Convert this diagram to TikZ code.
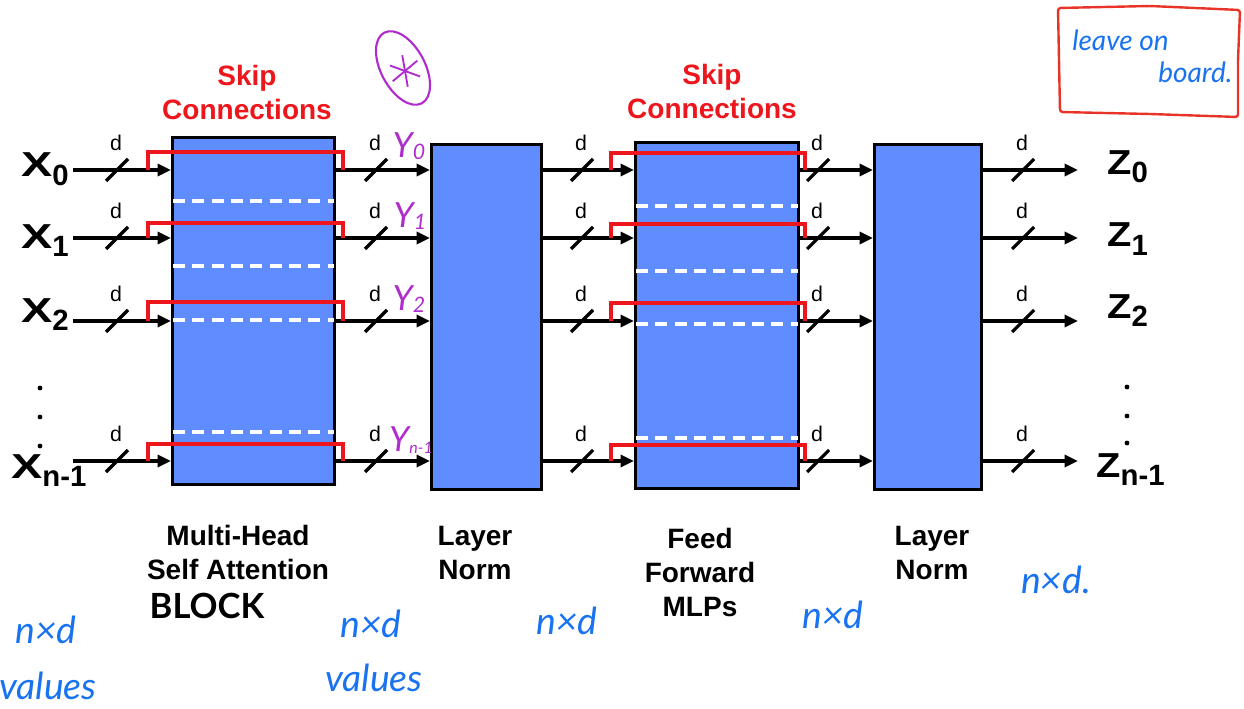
\documentclass[tikz,border=0pt]{standalone}
\usepackage{fontspec}
\setmainfont{Liberation Sans}
\newfontfamily\hand{Lato}
\usetikzlibrary{arrows.meta}
\definecolor{blkfill}{RGB}{95,141,255}
\definecolor{skipred}{RGB}{236,22,28}
\definecolor{hblue}{RGB}{25,115,240}
\definecolor{hpurple}{RGB}{175,45,205}
\definecolor{hred}{RGB}{232,52,40}
\newcommand\biglbl[3]{\scalebox{#1}[1]{\fontsize{26}{28}\selectfont\bfseries #2}\raisebox{-6pt}{\fontsize{22}{24}\selectfont\bfseries #3}}
\begin{document}
\begin{tikzpicture}[x=0.75pt,y=-0.75pt,
  block/.style={draw=black,line width=2.4pt,fill=blkfill,inner sep=0pt,anchor=north west},
  arr/.style={line width=2.4pt,-{Triangle[length=10pt,width=9pt]}},
  slash/.style={line width=2.4pt},
  dlbl/.style={font=\fontsize{16}{18}\selectfont,inner sep=0pt},
  skip/.style={draw=skipred,line width=2.6pt},
  sep/.style={draw=white,line width=2.6pt,dash pattern=on 9pt off 5.5pt},
  title/.style={font=\fontsize{21}{25.5}\selectfont\bfseries,align=center,inner sep=0pt},
  skiptitle/.style={title,text=skipred},
  big/.style={inner sep=0pt,anchor=base west},
  hw/.style={font=\hand\itshape\fontsize{28}{30}\selectfont,text=hblue,inner sep=0pt},
  hwsmall/.style={font=\hand\itshape\fontsize{21}{23}\selectfont,text=hblue,inner sep=0pt},
  hy/.style={font=\hand\itshape\fontsize{26}{28}\selectfont,text=hpurple,inner sep=0pt}
]
\useasboundingbox (0,0) rectangle (1244,709);

% blocks
\node[block,minimum width=121.5pt,minimum height=260.25pt] (b1) at (171,136) {};
\node[block,minimum width=82.5pt,minimum height=258.75pt] (b2) at (430,143) {};
\node[block,minimum width=122.25pt,minimum height=259.5pt] (b3) at (634,141) {};
\node[block,minimum width=80.25pt,minimum height=258.75pt] (b4) at (873,143) {};

% white dashed separators
\foreach \yy in {201,266,320,432} \draw[sep] ([xshift=1.5pt]b1.west |- 0,\yy) -- ([xshift=-1.5pt]b1.east |- 0,\yy);
\foreach \yy in {206,271,324,438} \draw[sep] ([xshift=1.5pt]b3.west |- 0,\yy) -- ([xshift=-1.5pt]b3.east |- 0,\yy);

% arrows, slashes and d labels
\foreach \i/\r in {0/170,1/238,2/321,3/461}{
  \coordinate (in\i) at (73,\r);
  \coordinate (out\i) at (1078,\r);
  \draw[arr] (in\i) -- (b1.west |- in\i);
  \draw[arr] (b1.east |- in\i) -- (b2.west |- in\i);
  \draw[arr] (b2.east |- in\i) -- (b3.west |- in\i);
  \draw[arr] (b3.east |- in\i) -- (b4.west |- in\i);
  \draw[arr] (b4.east |- in\i) -- (out\i);
  \foreach \sx in {117,376,582,818,1023}{
    \draw[slash] (\sx-11,\r+11) -- (\sx+11,\r-11);
    \node[dlbl] at (\sx-1,\r-27) {d};
  }
}

% skip connections
\foreach \i/\t in {0/152,1/223,2/302,3/444}
  \draw[skip] (in\i -| 148,0) -- (148,\t) -- (343,\t) -- (343,0 |- in\i);
\foreach \i/\t in {0/153,1/224,2/303,3/445}
  \draw[skip] (611,0 |- in\i) -- (611,\t) -- (805,\t) -- (805,0 |- in\i);

% input / output labels
\node[big] (x0) at (21,177) {\biglbl{1.35}{X}{0}};
\node[big] (x1) at (21,248) {\biglbl{1.35}{X}{1}};
\node[big] (x2) at (21,322) {\biglbl{1.35}{X}{2}};
\node[big] (x3) at (11,478) {\biglbl{1.35}{X}{n-1}};
\node[big] (z0) at (1107,175) {\biglbl{1.15}{Z}{0}};
\node[big] (z1) at (1107,247) {\biglbl{1.15}{Z}{1}};
\node[big] (z2) at (1107,318) {\biglbl{1.15}{Z}{2}};
\node[big] (z3) at (1096,477) {\biglbl{1.15}{Z}{n-1}};
\foreach \yy/\zz in {388/387,417/416,446/443}{
  \fill (40,\yy) circle (1.8pt);
  \fill (1127,\zz) circle (1.8pt);
}

% titles
\node[skiptitle] (s1) at (247,92) {Skip\\Connections};
\node[skiptitle] (s2) at (712,91) {Skip\\Connections};
\node[title] (t1) at (238,552) {Multi-Head\\Self Attention};
\node[title] (t2) at (475,553) {Layer\\Norm};
\node[title] (t3) at (700,572) {Feed\\Forward\\MLPs};
\node[title] (t4) at (932,553) {Layer\\Norm};

% handwritten annotations
\node[hy] (y0) at (409,146) {Y\raisebox{-2pt}{\fontsize{16}{16}\selectfont 0}};
\node[hy] (y1) at (410,216) {Y\raisebox{-2pt}{\fontsize{16}{16}\selectfont 1}};
\node[hy] (y2) at (409,299) {Y\raisebox{-2pt}{\fontsize{16}{16}\selectfont 2}};
\node[hy] (y3) at (411,440) {Y\raisebox{-2pt}{\fontsize{12}{12}\selectfont n-1}};
\draw[hpurple,line width=1.6pt,rotate around={-62:(403,68)}] (403,68) ellipse [x radius=40,y radius=22];
\foreach \a in {20,80,140,200,260,320}
  \draw[hpurple,line width=1.4pt] (405,71) -- ++(\a:16);

\draw[hred,line width=1.8pt,rounded corners=2pt]
  (1058,8) -- (1150,6) -- (1240,10) -- (1238,60) -- (1238,117) -- (1150,114) -- (1060,112) -- (1059,60) -- cycle;
\node[hwsmall,anchor=west] (lv) at (1072,40) {leave on};
\node[hwsmall,anchor=west] (bd) at (1158,72) {board.};

\node[font=\hand\bfseries\fontsize{26}{28}\selectfont,inner sep=0pt] (blk) at (207,606) {BLOCK};
\node[hw] (n1) at (46,630) {n×d};
\node[hw] (v1) at (48,686) {values};
\node[hw] (n2) at (371,624) {n×d};
\node[hw] (v2) at (374,678) {values};
\node[hw] (n3) at (567,621) {n×d};
\node[hw] (n4) at (833,615) {n×d};
\node[hw] (n5) at (1056,580) {n×d.};
\end{tikzpicture}
\end{document}
